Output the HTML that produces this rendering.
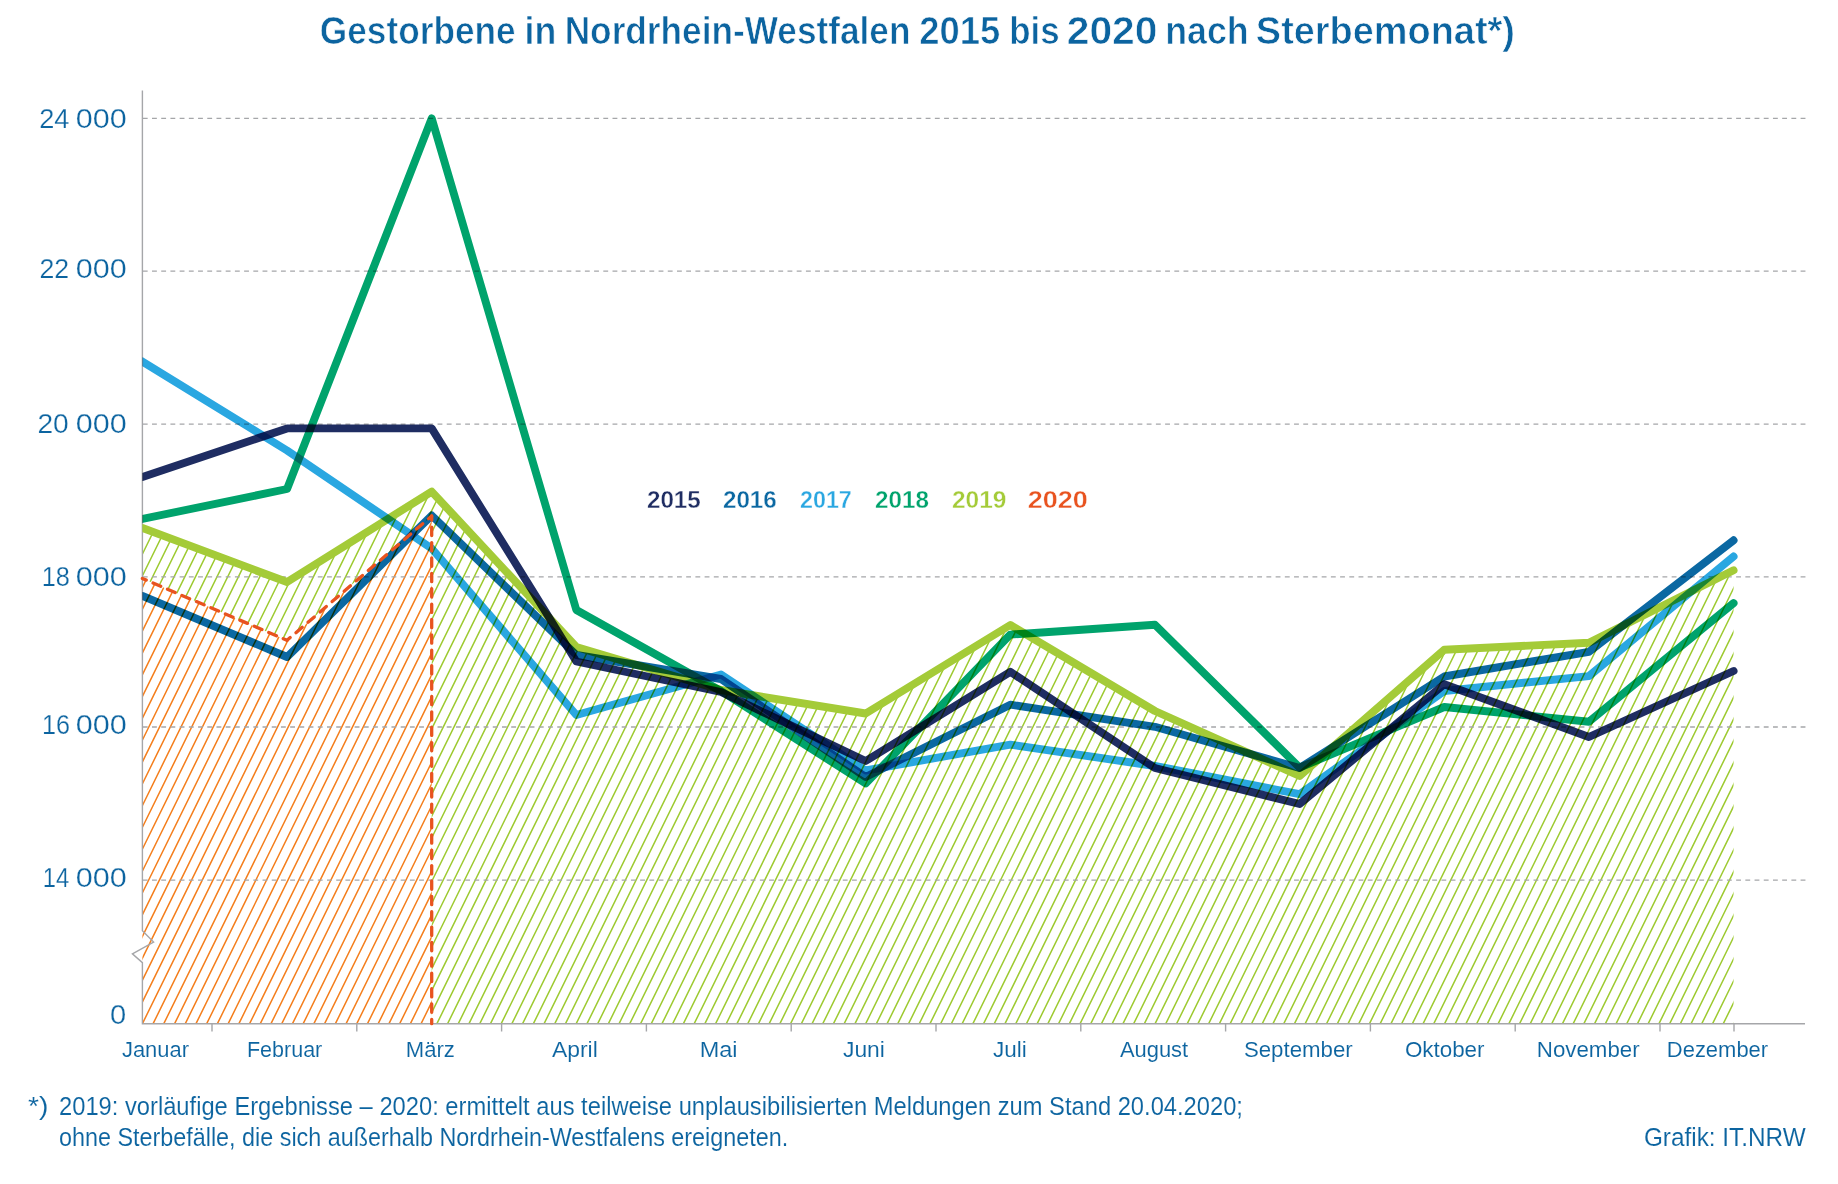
<!DOCTYPE html><html><head><meta charset="utf-8"><style>
html,body{margin:0;padding:0;background:#fff;width:1838px;height:1184px;overflow:hidden}
svg{display:block}text{font-family:"Liberation Sans",sans-serif}
.ln{fill:none;stroke-width:7.90;stroke-linejoin:round;stroke-linecap:round}
</style></head><body>
<svg width="1838" height="1184" viewBox="0 0 1838 1184">
<defs>
<clipPath id="cl"><path clip-rule="evenodd" d="M142.40 1023.7L142.40 528.00 287.05 582.00 431.70 491.60 576.35 647.00 721.00 690.00 865.65 713.50 1010.30 625.00 1154.95 711.00 1299.60 776.00 1444.25 649.80 1588.90 642.70 1733.55 570.30 1733.55 1023.7ZM142.40 1023.7L142.40 578.50 287.05 640.30 431.70 516.00 431.70 1023.7Z"/></clipPath>
<clipPath id="co"><path d="M142.40 1023.7L142.40 578.50 287.05 640.30 431.70 516.00 431.70 1023.7Z"/></clipPath>
<clipPath id="cx"><rect x="142.4" y="0" width="1700" height="1184"/></clipPath>
</defs>
<path clip-path="url(#cl)" d="M-324.2 1023.7L129.7 100.0M-313.5 1023.7L140.4 100.0M-302.8 1023.7L151.1 100.0M-292.1 1023.7L161.8 100.0M-281.4 1023.7L172.5 100.0M-270.6 1023.7L183.3 100.0M-259.9 1023.7L194.0 100.0M-249.2 1023.7L204.7 100.0M-238.5 1023.7L215.4 100.0M-227.8 1023.7L226.1 100.0M-217.0 1023.7L236.9 100.0M-206.3 1023.7L247.6 100.0M-195.6 1023.7L258.3 100.0M-184.9 1023.7L269.0 100.0M-174.2 1023.7L279.7 100.0M-163.4 1023.7L290.5 100.0M-152.7 1023.7L301.2 100.0M-142.0 1023.7L311.9 100.0M-131.3 1023.7L322.6 100.0M-120.6 1023.7L333.3 100.0M-109.8 1023.7L344.1 100.0M-99.1 1023.7L354.8 100.0M-88.4 1023.7L365.5 100.0M-77.7 1023.7L376.2 100.0M-67.0 1023.7L386.9 100.0M-56.2 1023.7L397.7 100.0M-45.5 1023.7L408.4 100.0M-34.8 1023.7L419.1 100.0M-24.1 1023.7L429.8 100.0M-13.4 1023.7L440.5 100.0M-2.6 1023.7L451.3 100.0M8.1 1023.7L462.0 100.0M18.8 1023.7L472.7 100.0M29.5 1023.7L483.4 100.0M40.2 1023.7L494.1 100.0M51.0 1023.7L504.9 100.0M61.7 1023.7L515.6 100.0M72.4 1023.7L526.3 100.0M83.1 1023.7L537.0 100.0M93.8 1023.7L547.7 100.0M104.6 1023.7L558.5 100.0M115.3 1023.7L569.2 100.0M126.0 1023.7L579.9 100.0M136.7 1023.7L590.6 100.0M147.4 1023.7L601.3 100.0M158.2 1023.7L612.1 100.0M168.9 1023.7L622.8 100.0M179.6 1023.7L633.5 100.0M190.3 1023.7L644.2 100.0M201.0 1023.7L654.9 100.0M211.8 1023.7L665.7 100.0M222.5 1023.7L676.4 100.0M233.2 1023.7L687.1 100.0M243.9 1023.7L697.8 100.0M254.6 1023.7L708.5 100.0M265.4 1023.7L719.3 100.0M276.1 1023.7L730.0 100.0M286.8 1023.7L740.7 100.0M297.5 1023.7L751.4 100.0M308.2 1023.7L762.1 100.0M319.0 1023.7L772.9 100.0M329.7 1023.7L783.6 100.0M340.4 1023.7L794.3 100.0M351.1 1023.7L805.0 100.0M361.8 1023.7L815.7 100.0M372.6 1023.7L826.5 100.0M383.3 1023.7L837.2 100.0M394.0 1023.7L847.9 100.0M404.7 1023.7L858.6 100.0M415.4 1023.7L869.3 100.0M426.2 1023.7L880.1 100.0M436.9 1023.7L890.8 100.0M447.6 1023.7L901.5 100.0M458.3 1023.7L912.2 100.0M469.0 1023.7L922.9 100.0M479.8 1023.7L933.7 100.0M490.5 1023.7L944.4 100.0M501.2 1023.7L955.1 100.0M511.9 1023.7L965.8 100.0M522.6 1023.7L976.5 100.0M533.4 1023.7L987.3 100.0M544.1 1023.7L998.0 100.0M554.8 1023.7L1008.7 100.0M565.5 1023.7L1019.4 100.0M576.2 1023.7L1030.1 100.0M587.0 1023.7L1040.9 100.0M597.7 1023.7L1051.6 100.0M608.4 1023.7L1062.3 100.0M619.1 1023.7L1073.0 100.0M629.8 1023.7L1083.7 100.0M640.6 1023.7L1094.5 100.0M651.3 1023.7L1105.2 100.0M662.0 1023.7L1115.9 100.0M672.7 1023.7L1126.6 100.0M683.4 1023.7L1137.3 100.0M694.2 1023.7L1148.1 100.0M704.9 1023.7L1158.8 100.0M715.6 1023.7L1169.5 100.0M726.3 1023.7L1180.2 100.0M737.0 1023.7L1190.9 100.0M747.8 1023.7L1201.7 100.0M758.5 1023.7L1212.4 100.0M769.2 1023.7L1223.1 100.0M779.9 1023.7L1233.8 100.0M790.6 1023.7L1244.5 100.0M801.4 1023.7L1255.3 100.0M812.1 1023.7L1266.0 100.0M822.8 1023.7L1276.7 100.0M833.5 1023.7L1287.4 100.0M844.2 1023.7L1298.1 100.0M855.0 1023.7L1308.9 100.0M865.7 1023.7L1319.6 100.0M876.4 1023.7L1330.3 100.0M887.1 1023.7L1341.0 100.0M897.8 1023.7L1351.7 100.0M908.6 1023.7L1362.5 100.0M919.3 1023.7L1373.2 100.0M930.0 1023.7L1383.9 100.0M940.7 1023.7L1394.6 100.0M951.4 1023.7L1405.3 100.0M962.2 1023.7L1416.1 100.0M972.9 1023.7L1426.8 100.0M983.6 1023.7L1437.5 100.0M994.3 1023.7L1448.2 100.0M1005.0 1023.7L1458.9 100.0M1015.8 1023.7L1469.7 100.0M1026.5 1023.7L1480.4 100.0M1037.2 1023.7L1491.1 100.0M1047.9 1023.7L1501.8 100.0M1058.6 1023.7L1512.5 100.0M1069.4 1023.7L1523.3 100.0M1080.1 1023.7L1534.0 100.0M1090.8 1023.7L1544.7 100.0M1101.5 1023.7L1555.4 100.0M1112.2 1023.7L1566.1 100.0M1123.0 1023.7L1576.9 100.0M1133.7 1023.7L1587.6 100.0M1144.4 1023.7L1598.3 100.0M1155.1 1023.7L1609.0 100.0M1165.8 1023.7L1619.7 100.0M1176.6 1023.7L1630.5 100.0M1187.3 1023.7L1641.2 100.0M1198.0 1023.7L1651.9 100.0M1208.7 1023.7L1662.6 100.0M1219.4 1023.7L1673.3 100.0M1230.2 1023.7L1684.1 100.0M1240.9 1023.7L1694.8 100.0M1251.6 1023.7L1705.5 100.0M1262.3 1023.7L1716.2 100.0M1273.0 1023.7L1726.9 100.0M1283.8 1023.7L1737.7 100.0M1294.5 1023.7L1748.4 100.0M1305.2 1023.7L1759.1 100.0M1315.9 1023.7L1769.8 100.0M1326.6 1023.7L1780.5 100.0M1337.4 1023.7L1791.3 100.0M1348.1 1023.7L1802.0 100.0M1358.8 1023.7L1812.7 100.0M1369.5 1023.7L1823.4 100.0M1380.2 1023.7L1834.1 100.0M1391.0 1023.7L1844.9 100.0M1401.7 1023.7L1855.6 100.0M1412.4 1023.7L1866.3 100.0M1423.1 1023.7L1877.0 100.0M1433.8 1023.7L1887.7 100.0M1444.6 1023.7L1898.5 100.0M1455.3 1023.7L1909.2 100.0M1466.0 1023.7L1919.9 100.0M1476.7 1023.7L1930.6 100.0M1487.4 1023.7L1941.3 100.0M1498.2 1023.7L1952.1 100.0M1508.9 1023.7L1962.8 100.0M1519.6 1023.7L1973.5 100.0M1530.3 1023.7L1984.2 100.0M1541.0 1023.7L1994.9 100.0M1551.8 1023.7L2005.7 100.0M1562.5 1023.7L2016.4 100.0M1573.2 1023.7L2027.1 100.0M1583.9 1023.7L2037.8 100.0M1594.6 1023.7L2048.5 100.0M1605.4 1023.7L2059.3 100.0M1616.1 1023.7L2070.0 100.0M1626.8 1023.7L2080.7 100.0M1637.5 1023.7L2091.4 100.0M1648.2 1023.7L2102.1 100.0M1659.0 1023.7L2112.9 100.0M1669.7 1023.7L2123.6 100.0M1680.4 1023.7L2134.3 100.0M1691.1 1023.7L2145.0 100.0M1701.8 1023.7L2155.7 100.0M1712.6 1023.7L2166.5 100.0M1723.3 1023.7L2177.2 100.0M1734.0 1023.7L2187.9 100.0M1744.7 1023.7L2198.6 100.0M1755.4 1023.7L2209.3 100.0" stroke="#9dca30" stroke-width="1.5" fill="none"/>
<path clip-path="url(#co)" d="M-329.3 1023.7L124.6 100.0M-318.6 1023.7L135.3 100.0M-307.8 1023.7L146.1 100.0M-297.1 1023.7L156.8 100.0M-286.4 1023.7L167.5 100.0M-275.7 1023.7L178.2 100.0M-265.0 1023.7L188.9 100.0M-254.2 1023.7L199.7 100.0M-243.5 1023.7L210.4 100.0M-232.8 1023.7L221.1 100.0M-222.1 1023.7L231.8 100.0M-211.4 1023.7L242.5 100.0M-200.6 1023.7L253.3 100.0M-189.9 1023.7L264.0 100.0M-179.2 1023.7L274.7 100.0M-168.5 1023.7L285.4 100.0M-157.8 1023.7L296.1 100.0M-147.0 1023.7L306.9 100.0M-136.3 1023.7L317.6 100.0M-125.6 1023.7L328.3 100.0M-114.9 1023.7L339.0 100.0M-104.2 1023.7L349.7 100.0M-93.4 1023.7L360.5 100.0M-82.7 1023.7L371.2 100.0M-72.0 1023.7L381.9 100.0M-61.3 1023.7L392.6 100.0M-50.6 1023.7L403.3 100.0M-39.8 1023.7L414.1 100.0M-29.1 1023.7L424.8 100.0M-18.4 1023.7L435.5 100.0M-7.7 1023.7L446.2 100.0M3.0 1023.7L456.9 100.0M13.8 1023.7L467.7 100.0M24.5 1023.7L478.4 100.0M35.2 1023.7L489.1 100.0M45.9 1023.7L499.8 100.0M56.6 1023.7L510.5 100.0M67.4 1023.7L521.3 100.0M78.1 1023.7L532.0 100.0M88.8 1023.7L542.7 100.0M99.5 1023.7L553.4 100.0M110.2 1023.7L564.1 100.0M121.0 1023.7L574.9 100.0M131.7 1023.7L585.6 100.0M142.4 1023.7L596.3 100.0M153.1 1023.7L607.0 100.0M163.8 1023.7L617.7 100.0M174.6 1023.7L628.5 100.0M185.3 1023.7L639.2 100.0M196.0 1023.7L649.9 100.0M206.7 1023.7L660.6 100.0M217.4 1023.7L671.3 100.0M228.2 1023.7L682.1 100.0M238.9 1023.7L692.8 100.0M249.6 1023.7L703.5 100.0M260.3 1023.7L714.2 100.0M271.0 1023.7L724.9 100.0M281.8 1023.7L735.7 100.0M292.5 1023.7L746.4 100.0M303.2 1023.7L757.1 100.0M313.9 1023.7L767.8 100.0M324.6 1023.7L778.5 100.0M335.4 1023.7L789.3 100.0M346.1 1023.7L800.0 100.0M356.8 1023.7L810.7 100.0M367.5 1023.7L821.4 100.0M378.2 1023.7L832.1 100.0M389.0 1023.7L842.9 100.0M399.7 1023.7L853.6 100.0M410.4 1023.7L864.3 100.0M421.1 1023.7L875.0 100.0M431.8 1023.7L885.7 100.0M442.6 1023.7L896.5 100.0" stroke="#f47e1c" stroke-width="1.5" fill="none"/>
<line x1="142.8" y1="118.4" x2="1805.6" y2="118.4" stroke="#a5a6a9" stroke-width="1.3" stroke-dasharray="4.85 4.36"/>
<line x1="142.8" y1="271.2" x2="1805.6" y2="271.2" stroke="#a5a6a9" stroke-width="1.3" stroke-dasharray="4.85 4.36"/>
<line x1="142.8" y1="424.2" x2="1805.6" y2="424.2" stroke="#a5a6a9" stroke-width="1.3" stroke-dasharray="4.85 4.36"/>
<line x1="142.8" y1="576.9" x2="1805.6" y2="576.9" stroke="#a5a6a9" stroke-width="1.3" stroke-dasharray="4.85 4.36"/>
<line x1="142.8" y1="727.0" x2="1805.6" y2="727.0" stroke="#a5a6a9" stroke-width="1.3" stroke-dasharray="4.85 4.36"/>
<line x1="142.8" y1="880.2" x2="1805.6" y2="880.2" stroke="#a5a6a9" stroke-width="1.3" stroke-dasharray="4.85 4.36"/>
<path d="M142.4 90.4V930.7L153.6 942L132.4 953.8L142.4 962.6V1023.7H1805" fill="none" stroke="#a5a6a9" stroke-width="1.4" stroke-linejoin="miter"/>
<path d="M212.0 1023.7V1031.5M356.8 1023.7V1031.5M501.6 1023.7V1031.5M646.4 1023.7V1031.5M791.2 1023.7V1031.5M936.0 1023.7V1031.5M1080.8 1023.7V1031.5M1225.6 1023.7V1031.5M1370.4 1023.7V1031.5M1515.2 1023.7V1031.5M1660.0 1023.7V1031.5M1734.0 1023.7V1031.5" stroke="#a5a6a9" stroke-width="1.4"/>
<polyline class="ln" clip-path="url(#cx)" points="142.40,528.00 287.05,582.00 431.70,491.60 576.35,647.00 721.00,690.00 865.65,713.50 1010.30,625.00 1154.95,711.00 1299.60,776.00 1444.25,649.80 1588.90,642.70 1733.55,570.30" stroke="#a4cb38"/>
<polyline class="ln" style="mix-blend-mode:multiply" clip-path="url(#cx)" points="142.40,519.00 287.05,489.00 431.70,118.40 576.35,610.00 721.00,691.00 865.65,783.50 1010.30,634.60 1154.95,624.80 1299.60,767.60 1444.25,707.00 1588.90,721.70 1733.55,603.10" stroke="#00a36c"/>
<polyline class="ln" style="mix-blend-mode:multiply" clip-path="url(#cx)" points="142.40,361.50 287.05,450.50 431.70,548.50 576.35,715.00 721.00,674.50 865.65,770.50 1010.30,744.60 1154.95,766.00 1299.60,794.20 1444.25,691.00 1588.90,676.10 1733.55,556.50" stroke="#2aa7e1"/>
<polyline class="ln" style="mix-blend-mode:multiply" clip-path="url(#cx)" points="142.40,596.00 287.05,657.00 431.70,515.50 576.35,655.00 721.00,679.00 865.65,777.00 1010.30,704.70 1154.95,726.80 1299.60,768.00 1444.25,676.50 1588.90,651.80 1733.55,540.30" stroke="#0b68a2"/>
<polyline class="ln" style="mix-blend-mode:multiply" clip-path="url(#cx)" points="142.40,477.00 287.05,428.40 431.70,428.40 576.35,661.50 721.00,692.00 865.65,761.00 1010.30,671.80 1154.95,768.00 1299.60,804.00 1444.25,684.20 1588.90,737.00 1733.55,671.00" stroke="#1f2d62"/>
<path d="M142.40 578.50L287.05 640.30" fill="none" stroke="#e8531f" stroke-width="3.3" stroke-dasharray="8.30 7.43" stroke-dashoffset="4.15" stroke-linecap="round"/>
<path d="M287.05 640.30L431.70 516.00" fill="none" stroke="#e8531f" stroke-width="3.3" stroke-dasharray="8.30 7.59" stroke-dashoffset="4.15" stroke-linecap="round"/>
<path d="M431.70 516.00L431.70 1023.70" fill="none" stroke="#e8531f" stroke-width="3.3" stroke-dasharray="8.30 7.08" stroke-dashoffset="4.15" stroke-linecap="round"/>
<text id="title0" x="319.81" y="43.8" font-size="39.5" font-weight="bold" fill="#0c64a0" stroke="#fff" stroke-width="0.7" textLength="195.84" lengthAdjust="spacingAndGlyphs">Gestorbene</text>
<text id="title1" x="524.61" y="43.8" font-size="39.5" font-weight="bold" fill="#0c64a0" stroke="#fff" stroke-width="0.7" textLength="31.75" lengthAdjust="spacingAndGlyphs">in</text>
<text id="title2" x="564.68" y="43.8" font-size="39.5" font-weight="bold" fill="#0c64a0" stroke="#fff" stroke-width="0.7" textLength="345.81" lengthAdjust="spacingAndGlyphs">Nordrhein-Westfalen</text>
<text id="title3" x="919.30" y="43.8" font-size="39.5" font-weight="bold" fill="#0c64a0" stroke="#fff" stroke-width="0.7" textLength="80.91" lengthAdjust="spacingAndGlyphs">2015</text>
<text id="title4" x="1009.18" y="43.8" font-size="39.5" font-weight="bold" fill="#0c64a0" stroke="#fff" stroke-width="0.7" textLength="50.37" lengthAdjust="spacingAndGlyphs">bis</text>
<text id="title5" x="1066.73" y="43.8" font-size="39.5" font-weight="bold" fill="#0c64a0" stroke="#fff" stroke-width="0.7" textLength="90.80" lengthAdjust="spacingAndGlyphs">2020</text>
<text id="title6" x="1165.28" y="43.8" font-size="39.5" font-weight="bold" fill="#0c64a0" stroke="#fff" stroke-width="0.7" textLength="83.44" lengthAdjust="spacingAndGlyphs">nach</text>
<text id="title7" x="1255.87" y="43.8" font-size="39.5" font-weight="bold" fill="#0c64a0" stroke="#fff" stroke-width="0.7" textLength="259.07" lengthAdjust="spacingAndGlyphs">Sterbemonat*)</text>
<text id="ya24" x="39.13" y="127.7" font-size="28.5" font-weight="normal" fill="#0c64a0" stroke="#fff" stroke-width="0.25" textLength="30.21" lengthAdjust="spacingAndGlyphs">24</text>
<text id="yb24" x="75.83" y="127.7" font-size="28.5" font-weight="normal" fill="#0c64a0" stroke="#fff" stroke-width="0.25" textLength="50.93" lengthAdjust="spacingAndGlyphs">000</text>
<text id="ya22" x="39.41" y="277.5" font-size="28.5" font-weight="normal" fill="#0c64a0" stroke="#fff" stroke-width="0.25" textLength="29.67" lengthAdjust="spacingAndGlyphs">22</text>
<text id="yb22" x="75.83" y="277.5" font-size="28.5" font-weight="normal" fill="#0c64a0" stroke="#fff" stroke-width="0.25" textLength="50.93" lengthAdjust="spacingAndGlyphs">000</text>
<text id="ya20" x="37.48" y="433.2" font-size="28.5" font-weight="normal" fill="#0c64a0" stroke="#fff" stroke-width="0.25" textLength="31.31" lengthAdjust="spacingAndGlyphs">20</text>
<text id="yb20" x="75.83" y="433.2" font-size="28.5" font-weight="normal" fill="#0c64a0" stroke="#fff" stroke-width="0.25" textLength="50.93" lengthAdjust="spacingAndGlyphs">000</text>
<text id="ya18" x="41.76" y="585.7" font-size="28.5" font-weight="normal" fill="#0c64a0" stroke="#fff" stroke-width="0.25" textLength="28.11" lengthAdjust="spacingAndGlyphs">18</text>
<text id="yb18" x="75.66" y="585.7" font-size="28.5" font-weight="normal" fill="#0c64a0" stroke="#fff" stroke-width="0.25" textLength="51.05" lengthAdjust="spacingAndGlyphs">000</text>
<text id="ya16" x="42.05" y="734.4" font-size="28.5" font-weight="normal" fill="#0c64a0" stroke="#fff" stroke-width="0.25" textLength="28.05" lengthAdjust="spacingAndGlyphs">16</text>
<text id="yb16" x="75.66" y="734.4" font-size="28.5" font-weight="normal" fill="#0c64a0" stroke="#fff" stroke-width="0.25" textLength="51.05" lengthAdjust="spacingAndGlyphs">000</text>
<text id="ya14" x="42.71" y="887.2" font-size="28.5" font-weight="normal" fill="#0c64a0" stroke="#fff" stroke-width="0.25" textLength="26.41" lengthAdjust="spacingAndGlyphs">14</text>
<text id="yb14" x="75.66" y="887.2" font-size="28.5" font-weight="normal" fill="#0c64a0" stroke="#fff" stroke-width="0.25" textLength="51.05" lengthAdjust="spacingAndGlyphs">000</text>
<text id="y0" x="109.92" y="1023.8" font-size="28.5" font-weight="normal" fill="#0c64a0" stroke="#fff" stroke-width="0.25" textLength="16.19" lengthAdjust="spacingAndGlyphs">0</text>
<text id="mJanuar" x="121.94" y="1056.5" font-size="22.5" font-weight="normal" fill="#0c64a0" stroke="#fff" stroke-width="0.1" textLength="67.12" lengthAdjust="spacingAndGlyphs">Januar</text>
<text id="mFebruar" x="246.90" y="1056.5" font-size="22.5" font-weight="normal" fill="#0c64a0" stroke="#fff" stroke-width="0.1" textLength="75.40" lengthAdjust="spacingAndGlyphs">Februar</text>
<text id="mMärz" x="405.81" y="1056.5" font-size="22.5" font-weight="normal" fill="#0c64a0" stroke="#fff" stroke-width="0.1" textLength="49.12" lengthAdjust="spacingAndGlyphs">März</text>
<text id="mApril" x="551.99" y="1056.5" font-size="22.5" font-weight="normal" fill="#0c64a0" stroke="#fff" stroke-width="0.1" textLength="45.80" lengthAdjust="spacingAndGlyphs">April</text>
<text id="mMai" x="699.71" y="1056.5" font-size="22.5" font-weight="normal" fill="#0c64a0" stroke="#fff" stroke-width="0.1" textLength="37.87" lengthAdjust="spacingAndGlyphs">Mai</text>
<text id="mJuni" x="842.96" y="1056.5" font-size="22.5" font-weight="normal" fill="#0c64a0" stroke="#fff" stroke-width="0.1" textLength="41.94" lengthAdjust="spacingAndGlyphs">Juni</text>
<text id="mJuli" x="992.93" y="1056.5" font-size="22.5" font-weight="normal" fill="#0c64a0" stroke="#fff" stroke-width="0.1" textLength="33.75" lengthAdjust="spacingAndGlyphs">Juli</text>
<text id="mAugust" x="1119.93" y="1056.5" font-size="22.5" font-weight="normal" fill="#0c64a0" stroke="#fff" stroke-width="0.1" textLength="68.26" lengthAdjust="spacingAndGlyphs">August</text>
<text id="mSeptember" x="1243.90" y="1056.5" font-size="22.5" font-weight="normal" fill="#0c64a0" stroke="#fff" stroke-width="0.1" textLength="108.86" lengthAdjust="spacingAndGlyphs">September</text>
<text id="mOktober" x="1404.88" y="1056.5" font-size="22.5" font-weight="normal" fill="#0c64a0" stroke="#fff" stroke-width="0.1" textLength="79.65" lengthAdjust="spacingAndGlyphs">Oktober</text>
<text id="mNovember" x="1536.84" y="1056.5" font-size="22.5" font-weight="normal" fill="#0c64a0" stroke="#fff" stroke-width="0.1" textLength="102.80" lengthAdjust="spacingAndGlyphs">November</text>
<text id="mDezember" x="1666.80" y="1056.5" font-size="22.5" font-weight="normal" fill="#0c64a0" stroke="#fff" stroke-width="0.1" textLength="101.37" lengthAdjust="spacingAndGlyphs">Dezember</text>
<text id="L2015" x="646.93" y="507.7" font-size="24.5" font-weight="bold" fill="#1f2d62" stroke="#fff" stroke-width="0.35" textLength="53.88" lengthAdjust="spacingAndGlyphs">2015</text>
<text id="L2016" x="722.93" y="507.7" font-size="24.5" font-weight="bold" fill="#0b68a2" stroke="#fff" stroke-width="0.35" textLength="53.90" lengthAdjust="spacingAndGlyphs">2016</text>
<text id="L2017" x="799.96" y="507.7" font-size="24.5" font-weight="bold" fill="#2aa7e1" stroke="#fff" stroke-width="0.35" textLength="51.87" lengthAdjust="spacingAndGlyphs">2017</text>
<text id="L2018" x="874.94" y="507.7" font-size="24.5" font-weight="bold" fill="#00a36c" stroke="#fff" stroke-width="0.35" textLength="53.94" lengthAdjust="spacingAndGlyphs">2018</text>
<text id="L2019" x="951.92" y="507.7" font-size="24.5" font-weight="bold" fill="#a4cb38" stroke="#fff" stroke-width="0.35" textLength="54.47" lengthAdjust="spacingAndGlyphs">2019</text>
<text id="L2020" x="1027.79" y="507.7" font-size="24.5" font-weight="bold" fill="#e8531f" stroke="#fff" stroke-width="0.35" textLength="60.11" lengthAdjust="spacingAndGlyphs">2020</text>
<text id="fstar" x="27.98" y="1115.2" font-size="25" font-weight="normal" fill="#0c64a0" stroke="#fff" stroke-width="0.1" textLength="20.39" lengthAdjust="spacingAndGlyphs">*)</text>
<text id="fn1" x="59.02" y="1115.2" font-size="25" font-weight="normal" fill="#0c64a0" stroke="#fff" stroke-width="0.1" textLength="1183.94" lengthAdjust="spacingAndGlyphs">2019: vorläufige Ergebnisse – 2020: ermittelt aus teilweise unplausibilisierten Meldungen zum Stand 20.04.2020;</text>
<text id="fn2" x="59.03" y="1145.5" font-size="25" font-weight="normal" fill="#0c64a0" stroke="#fff" stroke-width="0.1" textLength="729.19" lengthAdjust="spacingAndGlyphs">ohne Sterbefälle, die sich außerhalb Nordrhein-Westfalens ereigneten.</text>
<text id="grafik" x="1643.96" y="1145.9" font-size="25.5" font-weight="normal" fill="#0c64a0" stroke="#fff" stroke-width="0.1" textLength="161.71" lengthAdjust="spacingAndGlyphs">Grafik: IT.NRW</text>
</svg></body></html>
